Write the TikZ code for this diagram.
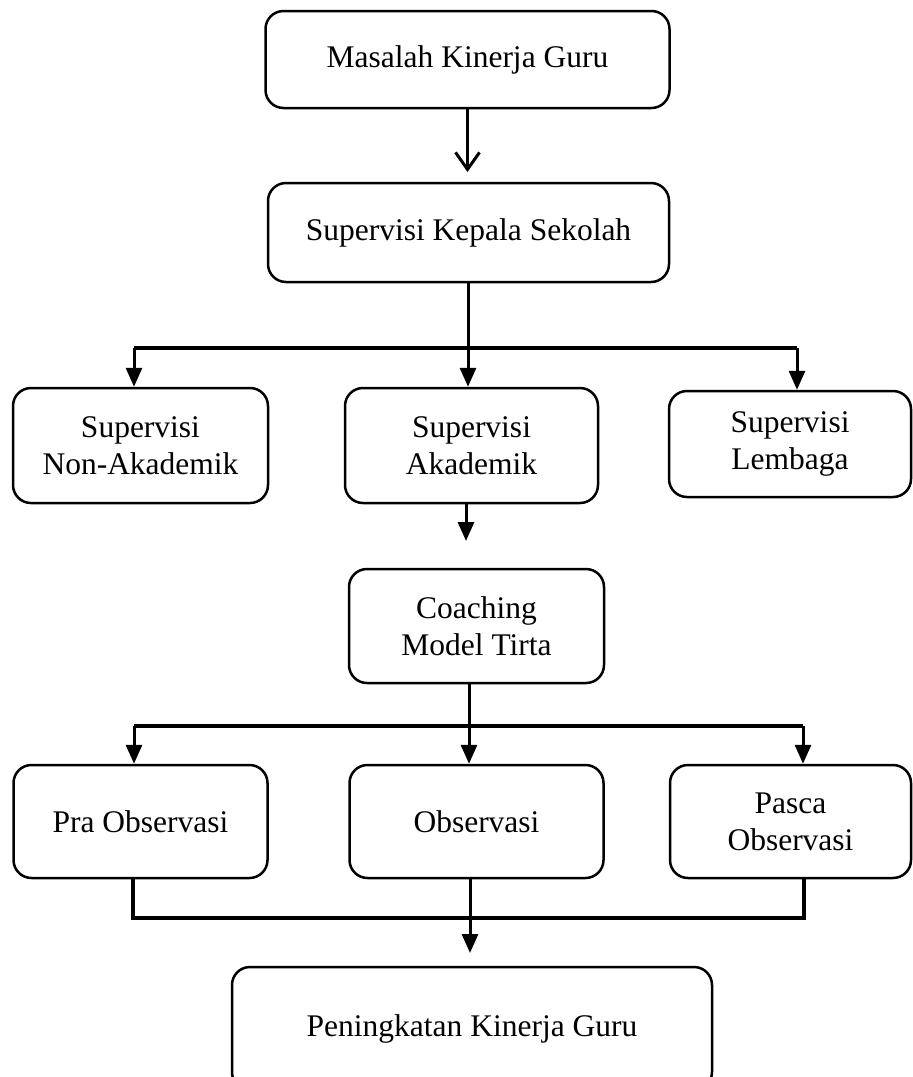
\documentclass[tikz,border=0pt]{standalone}
\usepackage{fontspec}
\setmainfont{Liberation Serif}
\usetikzlibrary{arrows.meta}
\begin{document}
\begin{tikzpicture}[x=1pt,y=-1pt,
  box/.style={draw, line width=2.5pt, rounded corners=18pt, align=center,
    font=\fontsize{31.5}{37}\selectfont, inner sep=0pt},
  conn/.style={line width=3pt},
  bar/.style={line width=3.6pt},
  arr/.style={line width=3pt, -{Triangle[length=19pt,width=16pt]}},
  openarr/.style={line width=3pt, -{Straight Barb[length=17pt,width=24pt,line width=3pt]}},
]
\useasboundingbox (0,0) rectangle (913,1077);
\clip (0,0) rectangle (913,1077);

% nodes
\node[box, minimum width=404pt, minimum height=97pt] (m) at (467.5,59.5) {Masalah Kinerja Guru};
\node[box, minimum width=401pt, minimum height=99pt] (s) at (468.5,232.5) {Supervisi Kepala Sekolah};
\node[box, minimum width=255pt, minimum height=115pt] (na) at (140.5,445.5) {Supervisi\\Non-Akademik};
\node[box, minimum width=253pt, minimum height=115pt] (ak) at (471.5,445.5) {Supervisi\\Akademik};
\node[box, minimum width=242pt, minimum height=106pt] (lb) at (790,444) {Supervisi\\Lembaga};
\node[box, minimum width=255pt, minimum height=114pt] (co) at (476.5,626) {Coaching\\Model Tirta};
\node[box, minimum width=254pt, minimum height=113pt] (pr) at (140.5,821.5) {Pra Observasi};
\node[box, minimum width=254pt, minimum height=113pt] (ob) at (476.5,821.5) {Observasi};
\node[box, minimum width=241pt, minimum height=113pt] (ps) at (790.5,821.5) {Pasca\\Observasi};
\node[box, minimum width=480pt, minimum height=123pt] (pk) at (472,1028.5) {Peningkatan Kinerja Guru};

% coordinates
\coordinate (a1) at (467.5,172);
\coordinate (j1) at (468,348);
\coordinate (l1) at (134,348);
\coordinate (r1) at (797,348);
\coordinate (a2) at (466,541);
\coordinate (j2) at (469,726);
\coordinate (l2) at (134,726);
\coordinate (r2) at (803,726);
\coordinate (l3) at (133,918);
\coordinate (r3) at (804,918);
\coordinate (a3) at (470,953);

% connectors
\draw[openarr] (m.south) -- (a1);

\draw[conn] (s.south -| j1) -- (j1);
\draw[bar] (l1) -- (r1);
\draw[arr] (l1) -- (l1 |- na.north);
\draw[arr] (j1) -- (j1 |- ak.north);
\draw[arr] (r1) -- (r1 |- lb.north);

\draw[arr] (ak.south -| a2) -- (a2);

\draw[conn] (co.south -| j2) -- (j2);
\draw[bar] (l2) -- (r2);
\draw[arr] (l2) -- (l2 |- pr.north);
\draw[arr] (j2) -- (j2 |- ob.north);
\draw[arr] (r2) -- (r2 |- ps.north);

\draw[bar, line join=miter] (pr.south -| l3) -- (l3) -- (r3) -- (ps.south -| r3);
\draw[arr] (ob.south -| a3) -- (a3);
\end{tikzpicture}
\end{document}
